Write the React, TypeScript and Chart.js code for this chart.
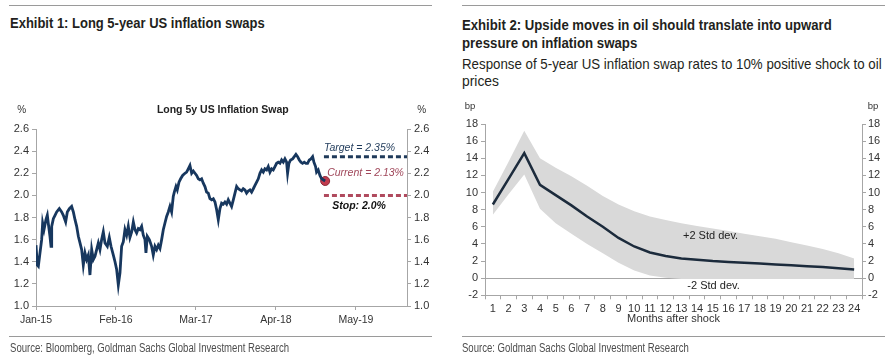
import React, { useEffect, useLayoutEffect, useRef, useState } from "react";
import { Chart, registerables } from "chart.js";

Chart.register(...registerables);

// ---------- Exhibit 1 data (months since Jan-15) ----------
const swapMonths = [
  0.0, 0.22, 0.38, 0.65, 0.92, 1.08, 1.3, 1.62, 1.84, 2.06, 2.27, 2.44, 2.55, 2.82, 3.09, 3.36, 3.79, 4.17, 4.44, 4.82,
  5.09, 5.42, 5.79, 6.07, 6.34, 6.61, 6.88, 7.15, 7.42, 7.69, 7.96, 8.23, 8.5, 8.77, 9.05, 9.32, 9.59, 9.86, 10.13, 10.4,
  10.67, 10.94, 11.21, 11.59, 11.91, 12.19, 12.57, 12.84, 13.11, 13.38, 13.65, 13.92, 14.19, 14.46, 14.73, 15.0, 15.27,
  15.55, 15.82, 16.09, 16.36, 16.63, 16.9, 17.17, 17.44, 17.71, 17.87, 18.09, 18.42, 18.79, 19.06, 19.34, 19.61, 19.88,
  20.15, 20.42, 20.69, 20.96, 21.23, 21.5, 21.77, 22.04, 22.31, 22.48, 22.75, 22.96, 23.24, 23.51, 23.83, 24.21, 24.48,
  24.75, 25.02, 25.3, 25.57, 25.84, 26.11, 26.38, 26.65, 26.92, 27.19, 27.46, 27.73, 28.0, 28.27, 28.55, 28.82, 29.09,
  29.36, 29.63, 29.9, 30.17, 30.44, 30.71, 30.98, 31.25, 31.52, 31.79, 32.07, 32.34, 32.61, 32.88, 33.15, 33.42, 33.69,
  33.96, 34.23, 34.5, 34.77, 35.04, 35.32, 35.59, 35.86, 36.13, 36.4, 36.67, 36.94, 37.21, 37.48, 37.75, 38.02, 38.29,
  38.56, 38.84, 39.11, 39.38, 39.65, 39.92, 40.19, 40.46, 40.73, 40.89, 41.11, 41.38, 41.71, 41.98, 42.25, 42.52, 42.79,
  43.06, 43.33, 43.6, 43.87, 44.14, 44.42, 44.69, 44.96, 45.17, 45.44, 45.6, 45.87, 46.15, 46.42, 47.0,
];
const swapValues = [
  1.55, 1.37, 1.36, 1.48, 1.6, 1.75, 1.69, 1.78, 1.82, 1.72, 1.63, 1.54, 1.72, 1.79, 1.82, 1.85, 1.88, 1.85, 1.82, 1.76,
  1.85, 1.88, 1.9, 1.85, 1.78, 1.72, 1.63, 1.57, 1.51, 1.37, 1.48, 1.42, 1.46, 1.28, 1.51, 1.42, 1.45, 1.51, 1.57, 1.51,
  1.6, 1.67, 1.57, 1.54, 1.62, 1.54, 1.46, 1.4, 1.33, 1.19, 1.3, 1.54, 1.58, 1.69, 1.64, 1.72, 1.62,
  1.67, 1.76, 1.69, 1.66, 1.7, 1.69, 1.72, 1.64, 1.6, 1.48, 1.63, 1.6, 1.54, 1.46, 1.54, 1.51, 1.55,
  1.52, 1.6, 1.69, 1.75, 1.81, 1.85, 1.9, 1.85, 1.99, 2.03, 2.08, 2.05, 2.12, 2.15, 2.18, 2.2, 2.21,
  2.24, 2.27, 2.2, 2.22, 2.2, 2.18, 2.15, 2.14, 2.15, 2.11, 2.08, 2.03, 2.02, 1.97, 1.96, 1.97, 1.94,
  1.87, 1.78, 1.88, 1.93, 1.92, 1.94, 1.92, 1.96, 1.93, 1.9, 1.96, 2.02, 2.08, 2.06, 2.05, 2.04, 2.06,
  2.05, 2.02, 2.04, 2.05, 2.03, 2.06, 2.09, 2.12, 2.15, 2.2, 2.23, 2.21, 2.24, 2.23, 2.26, 2.21, 2.24,
  2.23, 2.26, 2.29, 2.3, 2.29, 2.32, 2.3, 2.33, 2.3, 2.2, 2.29, 2.32, 2.33, 2.35, 2.37, 2.35, 2.32,
  2.3, 2.29, 2.3, 2.29, 2.29, 2.32, 2.33, 2.35, 2.3, 2.26, 2.21, 2.23, 2.18, 2.15, 2.13,
];
const currentMonth = 47.0;
const currentValue = 2.13;
const targetLevel = 2.35;
const stopLevel = 2.0;
const levelStartMonth = 46.8;
const axisEndMonth = 60.3;
const xTickMonths = [0, 13, 26, 39, 52];
const xTickLabels = ["Jan-15", "Feb-16", "Mar-17", "Apr-18", "May-19"];

// ---------- Exhibit 2 data ----------
const shockMonths = [
  "1", "2", "3", "4", "5", "6", "7", "8", "9", "10", "11", "12",
  "13", "14", "15", "16", "17", "18", "19", "20", "21", "22", "23", "24",
];
const responseValues = [8.6, 11.6, 14.6, 10.9, 9.7, 8.5, 7.2, 6.0, 4.7, 3.7, 3.0, 2.6, 2.3, 2.15, 2.0, 1.9, 1.8, 1.7, 1.6, 1.5, 1.4, 1.3, 1.15, 1.0];
const upperValues = [10.1, 13.6, 17.2, 14.0, 12.9, 11.9, 10.8, 9.6, 8.6, 7.8, 7.2, 6.8, 6.4, 6.1, 5.8, 5.5, 5.2, 4.9, 4.6, 4.2, 3.8, 3.4, 2.9, 2.3];
const lowerValues = [7.4, 9.8, 12.1, 8.1, 6.4, 5.2, 4.0, 2.9, 1.8, 0.9, 0.3, 0.05, -0.1, -0.1, -0.1, -0.1, -0.1, -0.1, -0.1, -0.1, -0.1, -0.1, -0.1, -0.1];

// ---------- styling ----------
const SANS = '"Liberation Sans", Arial, sans-serif';
const AXIS = "#a6a6a6";
const TICK_TEXT = "#333333";
const NAVY = "#17375e";
const MAROON = "#b04a5e";

type Note = { text: string; x: number; y: number; font: string; color: string; align: CanvasTextAlign };

function notesPlugin(id: string, notes: Note[]) {
  return {
    id,
    afterDatasetsDraw(chart: any) {
      const ctx = chart.ctx;
      const xs = chart.scales.x;
      const ys = chart.scales.y;
      notes.forEach((n) => {
        ctx.save();
        ctx.font = n.font;
        ctx.fillStyle = n.color;
        ctx.textAlign = n.align;
        ctx.textBaseline = "middle";
        ctx.fillText(n.text, xs.getPixelForValue(n.x), ys.getPixelForValue(n.y));
        ctx.restore();
      });
    },
  };
}

function LeftChart() {
  const ref = useRef<HTMLCanvasElement>(null);
  useEffect(() => {
    const tickFont = { family: SANS, size: 11 };
    const yCommon = (pos: "left" | "right", w: number) => ({
      position: pos,
      min: 1.0,
      max: 2.6,
      afterFit: (s: any) => {
        s.width = w;
      },
      ticks: {
        stepSize: 0.2,
        callback: (v: any) => Number(v).toFixed(1),
        font: tickFont,
        color: TICK_TEXT,
        padding: 3,
      },
      grid: { drawOnChartArea: false, tickLength: 4, color: AXIS },
      border: { color: AXIS, width: 1 },
    });
    const chart = new Chart(ref.current!, {
      type: "line",
      data: {
        datasets: [
          {
            label: "Long 5y US Inflation Swap",
            data: swapMonths.map((m, i) => ({ x: m, y: swapValues[i] })),
            borderColor: NAVY,
            borderWidth: 2.8,
            pointRadius: 0,
            tension: 0,
            yAxisID: "y",
          },
          {
            label: "Target",
            data: [
              { x: levelStartMonth, y: targetLevel },
              { x: axisEndMonth, y: targetLevel },
            ],
            borderColor: "#1f3a5a",
            borderWidth: 3,
            borderDash: [5, 3],
            pointRadius: 0,
            yAxisID: "y",
          },
          {
            label: "Stop",
            data: [
              { x: levelStartMonth, y: stopLevel },
              { x: axisEndMonth, y: stopLevel },
            ],
            borderColor: MAROON,
            borderWidth: 3,
            borderDash: [5, 3],
            pointRadius: 0,
            yAxisID: "y",
          },
          {
            label: "Current",
            data: [{ x: currentMonth, y: currentValue }],
            showLine: false,
            pointRadius: 4.5,
            pointBackgroundColor: "#c23b4e",
            pointBorderColor: "#8a2a38",
            pointBorderWidth: 1,
            yAxisID: "y",
          },
        ],
      },
      options: {
        responsive: false,
        animation: false,
        layout: { padding: { top: 129, left: 0, right: 0, bottom: 0 } },
        plugins: { legend: { display: false }, tooltip: { enabled: false } },
        scales: {
          x: {
            type: "linear",
            min: 0,
            max: axisEndMonth,
            afterFit: (s: any) => {
              s.height = 51;
            },
            afterBuildTicks: (s: any) => {
              s.ticks = xTickMonths.map((v) => ({ value: v }));
            },
            ticks: {
              callback: (v: any) => xTickLabels[xTickMonths.indexOf(Number(v))],
              font: { family: SANS, size: 10.5 },
              color: TICK_TEXT,
              padding: 4,
              maxRotation: 0,
              autoSkip: false,
            },
            grid: { drawOnChartArea: false, tickLength: 4, color: AXIS },
            border: { color: AXIS, width: 1 },
          },
          y: yCommon("left", 36) as any,
          y2: yCommon("right", 38) as any,
        },
      },
      plugins: [
        notesPlugin("leftNotes", [
          { text: "Target = 2.35%", x: 46.8, y: 2.428, font: `italic 10.5px ${SANS}`, color: "#1f3a5a", align: "left" },
          { text: "Current = 2.13%", x: 47.33, y: 2.202, font: `italic 10.5px ${SANS}`, color: "#a0475a", align: "left" },
          { text: "Stop: 2.0%", x: 48.15, y: 1.904, font: `italic bold 10.5px ${SANS}`, color: "#111111", align: "left" },
        ]),
      ],
    });
    return () => chart.destroy();
  }, []);
  return <canvas ref={ref} width={445} height={357} style={{ position: "absolute", left: 0, top: 0 }} />;
}

function RightChart() {
  const ref = useRef<HTMLCanvasElement>(null);
  useEffect(() => {
    const tickFont = { family: SANS, size: 11 };
    const yCommon = (pos: "left" | "right", w: number, pad: number) => ({
      position: pos,
      min: -2,
      max: 18,
      afterFit: (s: any) => {
        s.width = w;
      },
      ticks: { stepSize: 2, font: tickFont, color: TICK_TEXT, padding: pad },
      grid: {
        drawOnChartArea: pos === "left",
        color: (c: any) => (c.tick && c.tick.value === 0 ? AXIS : "rgba(0,0,0,0)"),
        tickColor: AXIS,
        tickLength: 4,
      },
      border: { color: AXIS, width: 1 },
    });
    const chart = new Chart(ref.current!, {
      type: "line",
      data: {
        labels: shockMonths,
        datasets: [
          {
            label: "Response",
            data: responseValues,
            borderColor: "#1c2b3c",
            borderWidth: 2.5,
            pointRadius: 0,
            tension: 0,
            order: 0,
          },
          {
            label: "+2 Std dev.",
            data: upperValues,
            borderColor: "rgba(0,0,0,0)",
            borderWidth: 0,
            backgroundColor: "#d9d9d9",
            fill: "+1",
            pointRadius: 0,
            tension: 0,
            order: 1,
          },
          {
            label: "-2 Std dev.",
            data: lowerValues,
            borderColor: "rgba(0,0,0,0)",
            borderWidth: 0,
            fill: false,
            pointRadius: 0,
            tension: 0,
            order: 1,
          },
        ],
      },
      options: {
        responsive: false,
        animation: false,
        layout: { padding: { top: 124, left: 0, right: 0, bottom: 0 } },
        plugins: { legend: { display: false }, tooltip: { enabled: false } },
        scales: {
          x: {
            type: "category",
            offset: true,
            afterFit: (s: any) => {
              s.height = 61.7;
            },
            ticks: {
              font: { family: SANS, size: 11 },
              color: TICK_TEXT,
              padding: 3,
              maxRotation: 0,
              autoSkip: false,
            },
            grid: { offset: true, drawOnChartArea: false, tickLength: 4, color: AXIS },
            border: { color: AXIS, width: 1 },
            title: {
              display: true,
              text: "Months after shock",
              font: { family: SANS, size: 11 },
              color: TICK_TEXT,
              padding: { top: 0, bottom: 31 },
            },
          },
          y: yCommon("left", 40, 3) as any,
          y2: yCommon("right", 28, 2) as any,
        },
      },
      plugins: [
        notesPlugin("rightNotes", [
          { text: "+2 Std dev.", x: 13.86, y: 4.93, font: `11px ${SANS}`, color: "#222222", align: "center" },
          { text: "-2 Std dev.", x: 14.05, y: -0.88, font: `11px ${SANS}`, color: "#222222", align: "center" },
        ]),
      ],
    });
    return () => chart.destroy();
  }, []);
  return <canvas ref={ref} width={445} height={357} style={{ position: "absolute", left: 445, top: 0 }} />;
}

type TextProps = {
  x: number;
  baseline: number;
  size: number;
  weight?: string | number;
  align?: "left" | "center";
  color?: string;
  fitWidth?: number;
  children: React.ReactNode;
};

// Narrow headline text: regular sans face, horizontally condensed to the measured reference width
function Text({ x, baseline, size, weight = "normal", align = "left", color = "#222", fitWidth, children }: TextProps) {
  const ref = useRef<HTMLDivElement>(null);
  const [sx, setSx] = useState(1);
  useLayoutEffect(() => {
    if (fitWidth && ref.current) {
      const w = ref.current.offsetWidth;
      if (w > 0) setSx(fitWidth / w);
    }
  }, [fitWidth]);
  const transforms: string[] = [];
  if (align === "center") transforms.push("translateX(-50%)");
  if (sx !== 1) transforms.push(`scaleX(${sx})`);
  return (
    <div
      ref={ref}
      style={{
        position: "absolute",
        left: x,
        top: baseline - 0.8465 * size,
        fontFamily: SANS,
        fontSize: size,
        lineHeight: `${size}px`,
        fontWeight: weight as any,
        color,
        whiteSpace: "nowrap",
        transform: transforms.length ? transforms.join(" ") : undefined,
        transformOrigin: "left center",
      }}
    >
      {children}
    </div>
  );
}

function Rule({ x1, x2, y }: { x1: number; x2: number; y: number }) {
  return (
    <div
      style={{ position: "absolute", left: x1, top: y - 0.75, width: x2 - x1, height: 1.5, background: "#9a9a9a" }}
    />
  );
}

export default function App() {
  return (
    <div style={{ position: "absolute", left: 0, top: 0, width: 890, height: 357, background: "#ffffff", overflow: "hidden" }}>
      <Rule x1={9} x2={432} y={5.5} />
      <Rule x1={462} x2={885} y={5.5} />
      <Text x={10} baseline={28.3} size={14} weight="bold" color="#231f20" fitWidth={255}>
        Exhibit 1: Long 5-year US inflation swaps
      </Text>
      <Text x={462} baseline={29.3} size={15} weight="bold" color="#231f20" fitWidth={370}>
        Exhibit 2: Upside moves in oil should translate into upward
      </Text>
      <Text x={462} baseline={47.5} size={15} weight="bold" color="#231f20" fitWidth={175}>
        pressure on inflation swaps
      </Text>
      <Text x={462} baseline={68.3} size={15} color="#231f20" fitWidth={420}>
        Response of 5-year US inflation swap rates to 10% positive shock to oil
      </Text>
      <Text x={462} baseline={85.5} size={15} color="#231f20" fitWidth={37}>
        prices
      </Text>

      <LeftChart />
      <RightChart />

      <Text x={222.8} baseline={113.3} size={10.5} weight="bold" align="center" color="#222">
        Long 5y US Inflation Swap
      </Text>
      <Text x={21.7} baseline={113.3} size={10} align="center" color="#333">
        %
      </Text>
      <Text x={421.7} baseline={113.3} size={10} align="center" color="#333">
        %
      </Text>
      <Text x={470} baseline={109.5} size={9.5} align="center" color="#333">
        bp
      </Text>
      <Text x={873} baseline={109.5} size={9.5} align="center" color="#333">
        bp
      </Text>

      <Rule x1={9} x2={432} y={336.7} />
      <Rule x1={462} x2={885} y={336.7} />
      <Text x={10} baseline={352.7} size={12.5} color="#4d4d4d" fitWidth={279}>
        Source: Bloomberg, Goldman Sachs Global Investment Research
      </Text>
      <Text x={462} baseline={352.2} size={12.5} color="#4d4d4d" fitWidth={227}>
        Source: Goldman Sachs Global Investment Research
      </Text>
    </div>
  );
}
